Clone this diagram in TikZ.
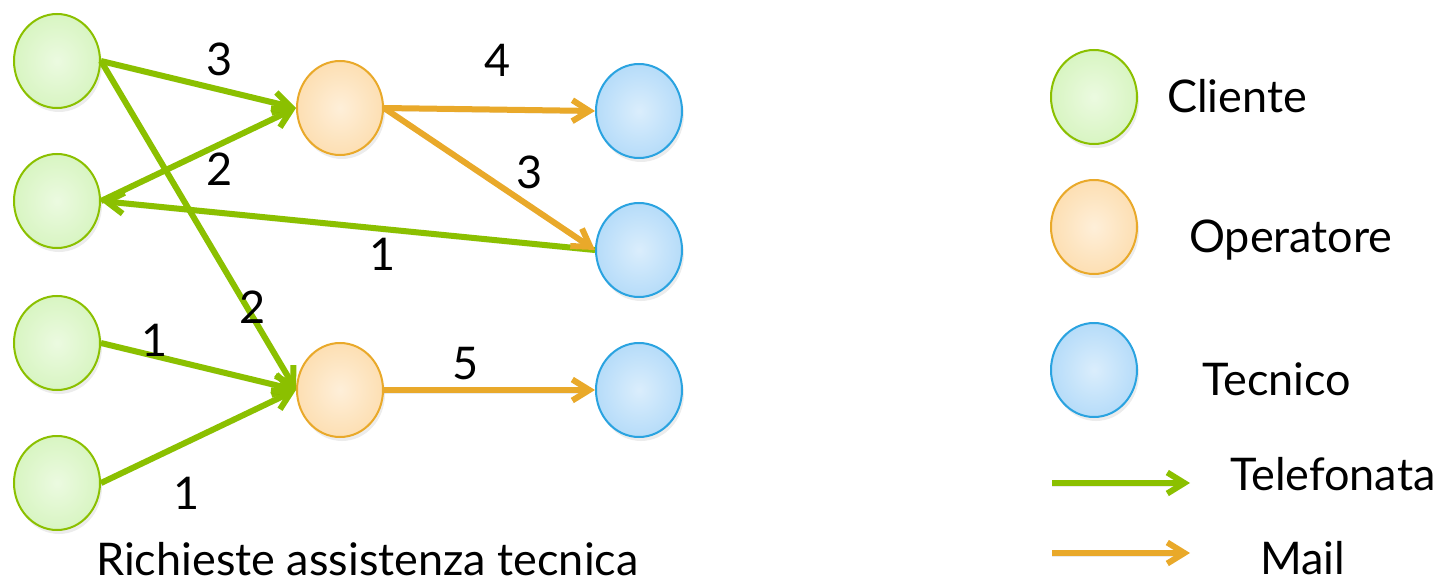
\documentclass[tikz,border=0pt]{standalone}
\usepackage{fontspec}
\setmainfont{Lato}
\usetikzlibrary{arrows.meta,shapes.geometric,shadows}
\definecolor{gline}{HTML}{8BC000}
\definecolor{gfill}{HTML}{D8F5C2}
\definecolor{oline}{HTML}{E9A92A}
\definecolor{ofill}{HTML}{FDDFB3}
\definecolor{bline}{HTML}{2AA3E0}
\definecolor{bfill}{HTML}{B6DCF9}
\begin{document}
\begin{tikzpicture}[x=1pt,y=-1pt,
  ball/.style={ellipse, minimum width=86pt, minimum height=94pt, inner sep=0pt, line width=2pt,
    drop shadow={shadow xshift=2pt, shadow yshift=-4pt, opacity=0.15}},
  cli/.style={ball, draw=gline, inner color=gfill!50!white, outer color=gfill},
  ope/.style={ball, draw=oline, inner color=ofill!50!white, outer color=ofill},
  tec/.style={ball, draw=bline, inner color=bfill!50!white, outer color=bfill},
  conn/.style={line width=6pt, -{Straight Barb[length=17pt, width=21pt, line width=6pt]},
    preaction={draw=black, opacity=0.08, transform canvas={yshift=-3pt}}},
  tel/.style={conn, draw=gline},
  mail/.style={conn, draw=oline},
  txt/.style={font=\fontsize{45}{50}\selectfont, inner sep=0pt, text=black},
]
\useasboundingbox (0,0) rectangle (1436,583);
% main diagram nodes
\node[cli] (c1) at (57,61) {};
\node[cli] (c2) at (57,201) {};
\node[cli] (c3) at (57,343) {};
\node[cli] (c4) at (57,483) {};
\node[ope] (o1) at (340,108) {};
\node[ope] (o2) at (340,390) {};
\node[tec] (t1) at (639,111) {};
\node[tec] (t2) at (639,250) {};
\node[tec] (t3) at (639,390) {};
% connectors
\draw[tel] (c1.east) -- (o1.west);
\draw[tel] (c1.east) -- (o2.west);
\draw[tel] (c2.east) -- (o1.west);
\draw[tel] (t2.west) -- (c2.east);
\draw[tel] (c3.east) -- (o2.west);
\draw[tel] (c4.east) -- (o2.west);
\draw[mail] (o1.east) -- (t1.west);
\draw[mail] (o1.east) -- (t2.west);
\draw[mail] (o2.east) -- (t3.west);
% edge labels
\node[txt] (n1) at (220,59) {3};
\node[txt] (n2) at (498,60) {4};
\node[txt] (n3) at (220,169) {2};
\node[txt] (n4) at (530,172) {3};
\node[txt] (n5) at (383,254) {1};
\node[txt] (n6) at (253,307) {2};
\node[txt] (n7) at (155,340) {1};
\node[txt] (n8) at (466,364) {5};
\node[txt] (n9) at (187,493) {1};
\node[txt, anchor=base west] (cap) at (96,575) {Richieste assistenza tecnica};
% legend
\node[cli] (lc) at (1094,97) {};
\node[ope] (lo) at (1094,227) {};
\node[tec] (lt) at (1094,370) {};
\node[txt, anchor=base west] (lct) at (1167,113) {Cliente};
\node[txt, anchor=base west] (lot) at (1189,252) {Operatore};
\node[txt, anchor=base west] (ltt) at (1202,395) {Tecnico};
\coordinate (ga) at (1052,483);
\coordinate (gb) at (1190,483);
\coordinate (ma) at (1052,553);
\coordinate (mb) at (1190,553);
\draw[tel] (ga) -- (gb);
\draw[mail] (ma) -- (mb);
\node[txt, anchor=base west] (lgt) at (1230,490) {Telefonata};
\node[txt, anchor=base west] (lmt) at (1260,574) {Mail};
\end{tikzpicture}
\end{document}
